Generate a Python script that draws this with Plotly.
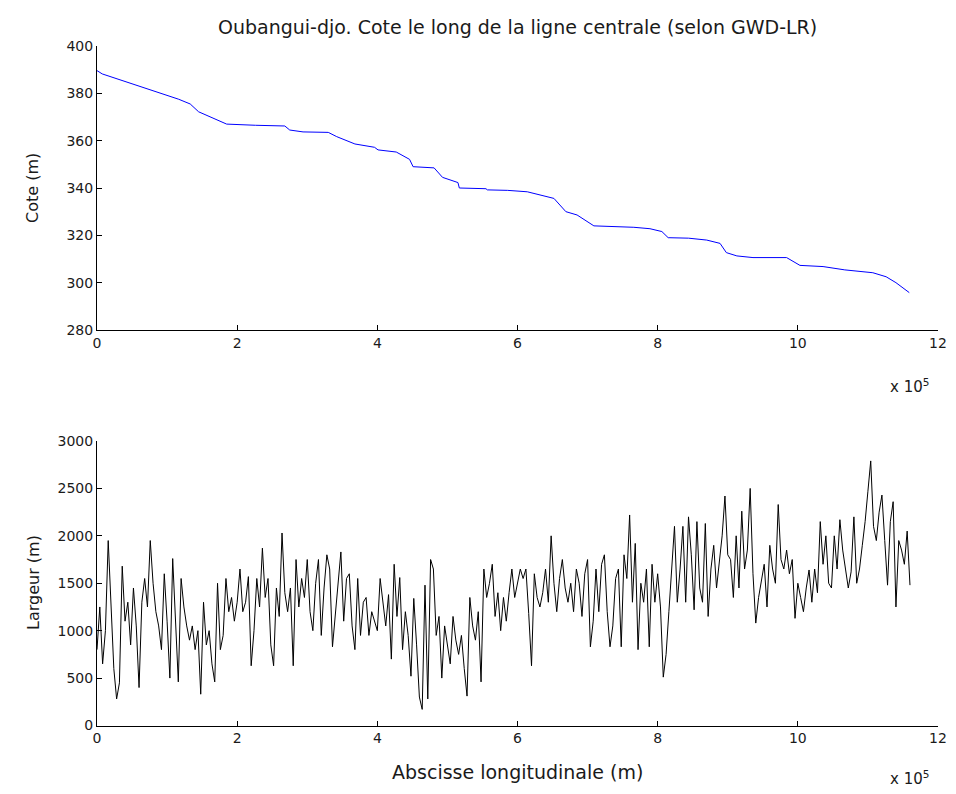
import plotly.graph_objects as go

# ---------------- data ----------------
# Top: elevation along centre line (m)
cote_x = [0, 7500, 116600, 133000, 145000, 185000, 226000, 268000, 275000, 294000,
          330000, 342000, 368000, 396000, 401000, 427000, 446000, 451000, 481000, 493000,
          515000, 517000, 555000, 557000, 586000, 614000, 652000, 669000, 685000, 709000,
          766000, 789000, 806000, 815000, 844000, 870000, 889000, 898000, 913000, 936000,
          984000, 1003000, 1036000, 1067000, 1107000, 1126000, 1140000, 1159000]
cote_z = [389.6, 388.2, 377.5, 375.5, 372.2, 367.0, 366.5, 366.2, 364.5, 363.7,
          363.5, 361.7, 358.6, 357.2, 356.1, 355.2, 352.1, 349.0, 348.5, 344.5,
          342.3, 340.0, 339.7, 339.2, 339.0, 338.4, 335.6, 330.0, 328.6, 324.0,
          323.4, 322.8, 321.6, 319.0, 318.8, 318.0, 316.6, 312.7, 311.3, 310.6,
          310.6, 307.3, 306.8, 305.4, 304.2, 302.5, 300.0, 295.8]

# Bottom: width (m), one reading every 4 km
largeur_step = 4000
largeur = [
    800, 1250, 650, 1000, 1950, 1350, 600, 280, 450, 1680,
    1100, 1300, 850, 1450, 1050, 400, 1300, 1550, 1250, 1950,
    1500, 1200, 1050, 800, 1600, 1100, 500, 1760, 1150, 460,
    1550, 1250, 1050, 900, 1050, 800, 1000, 330, 1300, 850,
    1000, 650, 460, 1500, 800, 950, 1550, 1200, 1350, 1100,
    1300, 1650, 1200, 1300, 1570, 630, 1000, 1550, 1250, 1870,
    1350, 1550, 850, 630, 1450, 1150, 2030, 1400, 1200, 1450,
    630, 1750, 1250, 1550, 1350, 1750, 1200, 1000, 1500, 1750,
    950, 1450, 1800, 1650, 830, 1150, 1550, 1830, 1100, 1550,
    1600, 1050, 800, 1550, 950, 1300, 1350, 950, 1200, 1100,
    1000, 1550, 1300, 1050, 1380, 700, 1700, 1150, 1560, 800,
    1200, 950, 520, 1340, 850, 300, 170, 1480, 280, 1750,
    1650, 950, 1150, 500, 1050, 850, 650, 1150, 900, 750,
    950, 600, 310, 1350, 1050, 900, 1200, 460, 1650, 1350,
    1500, 1700, 1150, 1400, 1000, 1350, 1100, 1400, 1650, 1350,
    1500, 1650, 1550, 1650, 1180, 630, 1600, 1350, 1250, 1400,
    1650, 1300, 2000, 1500, 1200, 1550, 1750, 1450, 1300, 1500,
    1200, 1650, 1500, 1150, 1600, 1750, 830, 1100, 1650, 1200,
    1700, 1800, 1200, 830, 1050, 1550, 1650, 830, 1800, 1550,
    2220, 1300, 1920, 800, 1500, 1300, 1650, 830, 1700, 1300,
    1600, 1250, 510, 750, 1200, 1700, 2100, 1300, 1650, 2100,
    1300, 2200, 1800, 1220, 2150, 1450, 1300, 2130, 1150, 1650,
    1900, 1450, 1700, 2000, 2420, 1800, 1750, 1350, 2000, 1450,
    2260, 1650, 1850, 2500, 1600, 1080, 1350, 1550, 1700, 1250,
    1900, 1650, 1500, 2330, 1750, 1650, 1850, 1600, 1750, 1130,
    1500, 1350, 1200, 1450, 1640, 1300, 1650, 1400, 2150, 1700,
    2000, 1500, 1450, 2000, 1650, 2170, 1850, 1650, 1450, 1620,
    2200, 1500, 1650, 1900, 2150, 2470, 2790, 2100, 1950, 2250,
    2430, 1950, 1480, 2150, 2360, 1250, 1950, 1850, 1700, 2050,
    1480,
]
largeur_x = [i * largeur_step for i in range(len(largeur))]

x_tick_vals = [0, 200000, 400000, 600000, 800000, 1000000, 1200000]
x_tick_text = ["0", "2", "4", "6", "8", "10", "12"]
cote_ticks = [280, 300, 320, 340, 360, 380, 400]
largeur_ticks = [0, 500, 1000, 1500, 2000, 2500, 3000]

title_text = "Oubangui-djo. Cote le long de la ligne centrale (selon GWD-LR)"

# ---------------- figure ----------------
# the page body has an 8 px margin, so the figure is 948 x 786 and
# window pixel positions are shifted by 8 px
OFF = 8
W, H = 956 - OFF, 794 - OFF
FONT = "DejaVu Sans, Verdana, sans-serif"
TXT = "#1a1a1a"

def px_x(p):
    return (p - OFF) / W

def px_y(p):
    return 1 - (p - OFF) / H

fig = go.Figure()
fig.add_trace(go.Scatter(x=cote_x, y=cote_z, mode="lines",
                         line=dict(color="#0000ff", width=1), xaxis="x", yaxis="y",
                         showlegend=False))
fig.add_trace(go.Scatter(x=largeur_x, y=largeur, mode="lines",
                         line=dict(color="#000000", width=1), xaxis="x2", yaxis="y2",
                         showlegend=False))

axis_common = dict(showgrid=False, zeroline=False, showline=True, linecolor="#000000",
                   linewidth=1, ticks="inside", ticklen=5, tickcolor="#000000",
                   tickfont=dict(family=FONT, size=14, color=TXT), mirror=False,
                   automargin=False)

xd = [px_x(97), px_x(938)]
fig.update_layout(
    template="none",
    width=W, height=H, margin=dict(l=0, r=0, t=0, b=0, pad=0),
    paper_bgcolor="white", plot_bgcolor="white",
    xaxis=dict(domain=xd, range=[0, 1200000], tickvals=x_tick_vals, ticktext=x_tick_text,
               anchor="y", **axis_common),
    yaxis=dict(domain=[px_y(330), px_y(46)], range=[280, 400], tickvals=cote_ticks,
               anchor="x", **axis_common),
    xaxis2=dict(domain=xd, range=[0, 1200000], tickvals=x_tick_vals, ticktext=x_tick_text,
                anchor="y2", **axis_common),
    yaxis2=dict(domain=[px_y(725.5), px_y(441)], range=[0, 3000], tickvals=largeur_ticks,
                anchor="x2", **axis_common),
    font=dict(family=FONT, size=14, color=TXT),
)

ann = [
    dict(text=title_text, x=px_x(517), y=px_y(27), xanchor="center", yanchor="middle",
         font=dict(size=19)),
    dict(text="Cote (m)", x=px_x(33), y=px_y(188), textangle=-90,
         xanchor="center", yanchor="middle", font=dict(size=16)),
    dict(text="Largeur (m)", x=px_x(33), y=px_y(583), textangle=-90,
         xanchor="center", yanchor="middle", font=dict(size=16)),
    dict(text="Abscisse longitudinale (m)", x=px_x(517), y=px_y(772),
         xanchor="center", yanchor="middle", font=dict(size=19)),
    dict(text="x 10<sup>5</sup>", x=px_x(931), y=px_y(386), xanchor="right",
         yanchor="middle", font=dict(size=15)),
    dict(text="x 10<sup>5</sup>", x=px_x(931), y=px_y(778), xanchor="right",
         yanchor="middle", font=dict(size=15)),
]
for a in ann:
    a.update(xref="paper", yref="paper", showarrow=False)
fig.update_layout(annotations=ann)

fig.write_html("out.html")
